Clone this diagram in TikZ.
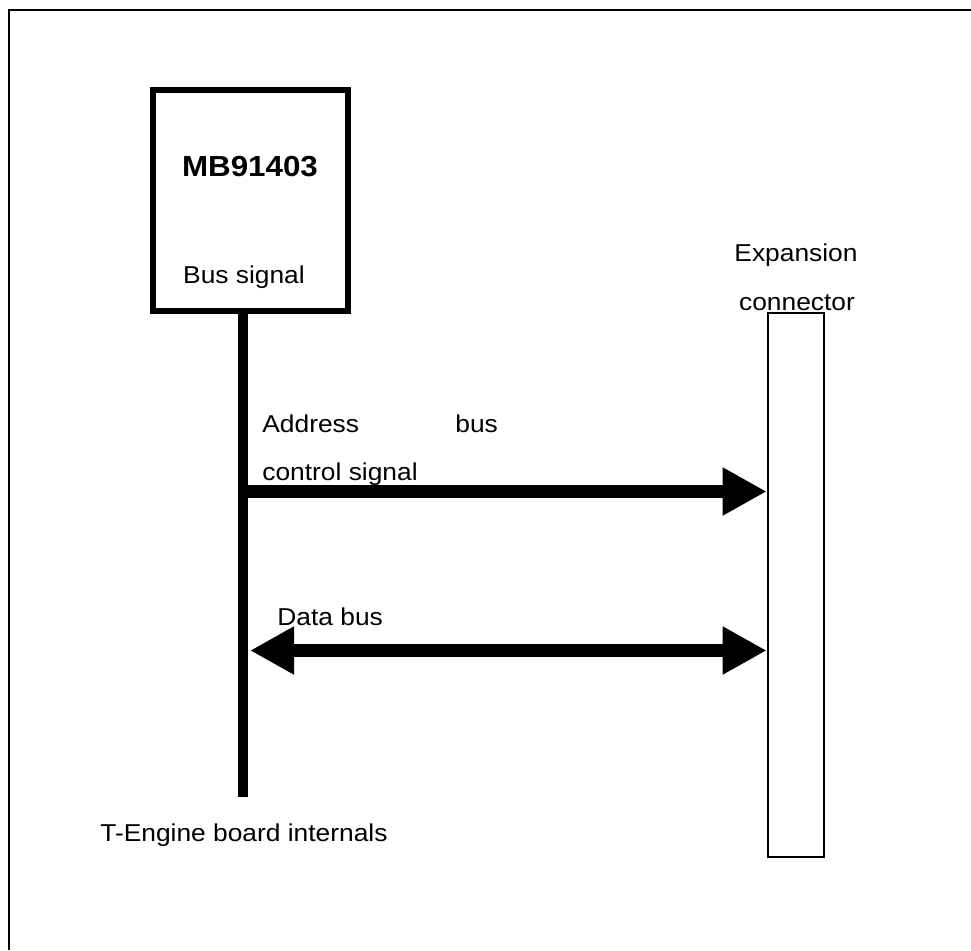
\documentclass[tikz,border=0pt]{standalone}
\usepackage{fontspec}
\setmainfont{Liberation Sans}[FakeStretch=1.08]
\usetikzlibrary{arrows.meta,positioning}

\begin{document}
\begin{tikzpicture}[
  x=0.5pt,y=-0.5pt,
  every node/.style={font=\fontsize{12.2}{14}\selectfont,inner sep=0pt},
  chipbox/.style={draw,line width=3pt,minimum width=97.5pt,minimum height=110.6pt},
  connbox/.style={draw,line width=1pt,minimum width=28pt,minimum height=272.2pt},
  label/.style={anchor=base west},
  bus/.style={line width=5pt},
  link/.style={-{Triangle[length=22pt,width=22.5pt]},line width=6.25pt},
  back/.style={{Triangle[length=22pt,width=22.5pt]}-{Triangle[length=22pt,width=22.5pt]},
               line width=6.25pt}
]
  \useasboundingbox (0,0) rectangle (971,950);
  % board outline
  \draw[line width=1pt] (8.5,950) -- (8.5,10) -- (971,10);

  \node[chipbox] (chip) at (250.5,200.35) {};
  \node[font=\fontsize{14.5}{16}\selectfont\bfseries,anchor=base] (chipname)
    at (250,176) {MB91403};
  \node[anchor=base] (chipsig) at (244,283) {Bus signal};

  \node[connbox] (conn) at (795.7,584.85) {};
  \node[anchor=base] (expname) at (796,261.7) {Expansion};
  \node[anchor=base] (expname2) at (797,310) {connector};

  % internal bus
  \coordinate (bustop) at (243,311);
  \coordinate (busend) at (243,797);
  \draw[bus] (bustop) -- (busend);
  \node[label] (internals) at (100,841.5) {T-Engine board internals};

  % address / control
  \coordinate (addr) at (243,491.5);
  \draw[link] (addr) -- (conn.west |- addr);
  \node[label] (addrlbl) at (262,432.5) {Address};
  \node[label] (buslbl) at (455,432.5) {bus};
  \node[label] (ctrllbl) at (262,480) {control signal};

  % data
  \coordinate (data) at (250,650.5);
  \draw[back] (data) -- (conn.west |- data);
  \node[label] (datalbl) at (277,625) {Data bus};
\end{tikzpicture}
\end{document}
